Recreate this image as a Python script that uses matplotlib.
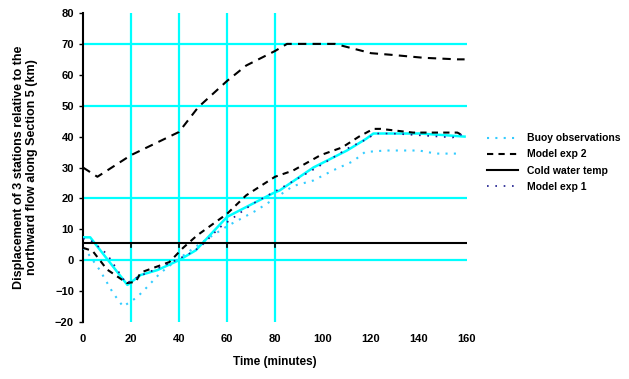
import matplotlib
matplotlib.use("Agg")
import matplotlib.pyplot as plt

plt.rcParams['font.family'] = ['Liberation Sans', 'DejaVu Sans']
plt.rcParams['font.weight'] = 'bold'

# x axis ticks / labels
x_ticks = [0, 20, 40, 60, 80, 100, 120, 140, 160]
y_ticks = [-20, -10, 0, 10, 20, 30, 40, 50, 60, 70, 80]
h_grid = [0, 20, 50, 70]
v_grid = [20, 40, 60, 80]

# upper black dashed curve
top_x = [0, 6, 20, 40, 48, 60, 68, 80, 85, 105, 110, 120, 128, 142, 156, 159]
top_y = [30, 27, 34, 41.5, 49.5, 58, 63, 67.7, 70, 70, 69, 67, 66.5, 65.5, 65, 65]

# lower black dashed curve (Model exp 2)
exp2_x = [0, 4, 10, 18.3, 22, 24, 36, 41.7, 47.5, 60, 68, 76, 80, 87.5, 99, 108, 115, 121, 124, 137.5, 149, 156, 159]
exp2_y = [4, 3, -3, -7.4, -7, -4, -0.6, 4, 8, 15, 21, 25, 27, 29, 34, 36.5, 40, 42.5, 42.5, 41.3, 41.3, 41.3, 40]

# cyan solid curve
cyan_x = [0, 3, 18.5, 24, 31, 40, 47, 60, 79, 82, 96, 110, 118, 121, 140, 150, 159]
cyan_y = [7.4, 7.4, -8, -4.8, -3.2, 0, 3.2, 14, 21.6, 22.6, 30, 35.5, 39.3, 41, 41, 40.5, 40]

# cyan dotted curve (observations)
obs_x = [0, 1.7, 7, 12.5, 16.7, 22.5, 26.7, 32, 39, 50, 60, 72, 80, 87.5, 96, 104, 112.5, 117.5, 126, 140, 147, 156]
obs_y = [4, 2.6, -3.2, -10.6, -15, -12, -8.7, -4.3, 0, 6, 11, 16, 20, 24, 25.8, 29, 32, 35, 35.5, 35.5, 34.5, 34.5]

# navy dotted curve (Model exp 1)
exp1_x = [0, 4, 10, 18, 24, 36, 44, 48.75, 57, 71, 84, 97.5, 111, 117, 122, 129, 154, 159]
exp1_y = [7, 6, 2, -7.5, -5, -1, 2, 4.2, 10.6, 18.4, 24, 30, 36.5, 38.7, 41, 41, 39.7, 41]

# horizontal reference level
ref_level = 5.5

legend_labels = ["Buoy observations", "Model exp 2", "Cold water temp", "Model exp 1"]

fig = plt.figure(figsize=(6.29, 3.79), dpi=100)
ax = fig.add_axes([83/629, 1 - 322/379, 384/629, 309/379])

cyan = '#00FFFF'
for yv in h_grid:
    ax.axhline(yv, color=cyan, lw=1.6, zorder=1)
for xv in v_grid:
    ax.axvline(xv, color=cyan, lw=1.6, zorder=1)

ax.plot(top_x, top_y, color='black', lw=1.5, ls=(0, (4, 3)), zorder=3)
l_obs, = ax.plot(obs_x, obs_y, color='#33CCFF', lw=1.5, ls=(0, (1, 3)), zorder=3)
l_exp2, = ax.plot(exp2_x, exp2_y, color='black', lw=1.5, ls=(0, (3, 2.5)), zorder=4)
ax.plot(cyan_x, cyan_y, color=cyan, lw=1.8, zorder=3)
l_exp1, = ax.plot(exp1_x, exp1_y, color='#1A1A8C', lw=1.2, ls=(0, (1, 4)), zorder=4)
l_ref = ax.axhline(ref_level, color='black', lw=1.5, zorder=5)
for xv in [0] + v_grid:
    ax.plot([xv, xv], [ref_level, ref_level - 1.3], color='black', lw=1.2, zorder=5)

ax.set_xlim(0, 160)
ax.set_ylim(-20, 80)
ax.set_xticks(x_ticks)
ax.set_yticks(y_ticks)
ax.tick_params(axis='x', length=0, pad=9, labelsize=8)
ax.tick_params(axis='y', length=3, width=1, direction='out', labelsize=8)
for s in ['top', 'right', 'bottom']:
    ax.spines[s].set_visible(False)
ax.spines['left'].set_linewidth(1.5)

ax.set_xlabel("Time (minutes)", fontsize=8.5, labelpad=8, fontweight='bold')
ax.set_ylabel("Displacement of 3 stations relative to the\nnorthward flow along Section 5 (km)",
              fontsize=9, labelpad=12, fontweight='bold')

fig.legend([l_obs, l_exp2, l_ref, l_exp1], legend_labels, loc='upper left',
           bbox_to_anchor=(483/629, 1 - 129/379), frameon=False, fontsize=7.5,
           handlelength=3, labelspacing=0.6, borderaxespad=0)

fig.savefig("out.png", dpi=100)
